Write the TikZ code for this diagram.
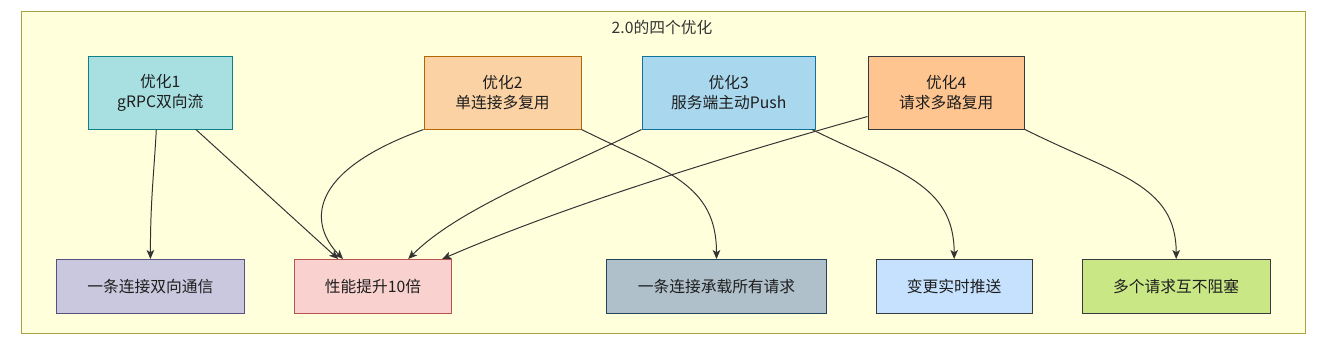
\documentclass[tikz,border=0pt]{standalone}
\usepackage{fontspec}
\setmainfont{Noto Sans CJK SC}
\usepackage{tikz}
\usetikzlibrary{arrows.meta,positioning}
\definecolor{framefill}{HTML}{FFFFDC}
\definecolor{frameline}{HTML}{A7A343}
\definecolor{tealfill}{HTML}{A8E0E2}
\definecolor{tealline}{HTML}{0E8088}
\definecolor{orangefill}{HTML}{FAD2A4}
\definecolor{orangeline}{HTML}{B46504}
\definecolor{bluefill}{HTML}{A9D8EE}
\definecolor{blueline}{HTML}{10739E}
\definecolor{peachfill}{HTML}{FFC590}
\definecolor{purplefill}{HTML}{CAC8DE}
\definecolor{purpleline}{HTML}{56517E}
\definecolor{redfill}{HTML}{F9D2D0}
\definecolor{redline}{HTML}{B85450}
\definecolor{slatefill}{HTML}{B0C0CB}
\definecolor{slateline}{HTML}{23445D}
\definecolor{skyfill}{HTML}{C6E1FD}
\definecolor{limefill}{HTML}{C9E784}
\definecolor{darkline}{HTML}{36393D}
\definecolor{edgegray}{HTML}{333333}
\definecolor{textgray}{HTML}{1E1E1E}

\begin{document}
\begin{tikzpicture}[
  box/.style={draw, line width=0.7pt, minimum height=1.8125cm, inner sep=1pt, align=center, text=textgray, font=\fontsize{11.2}{14.2}\selectfont},
  result/.style={box, minimum height=1.3375cm},
  bigbox/.style={draw=frameline, line width=0.7pt, fill=framefill, inner sep=0pt},
  arr/.style={-{Stealth[length=6.4pt, width=5.4pt, inset=1.6pt]}, line width=0.7pt, draw=edgegray, fill=none},
  >=Stealth
]
\useasboundingbox (0,0) rectangle (33.05,-8.825);

% Outer frame
\node[bigbox, minimum width=32.105cm, minimum height=8.0425cm] (v2) at (16.585, -4.304) {};
\node[text=edgegray, font=\fontsize{11.2}{14.2}\selectfont] (title) at (16.55, -0.68) {2.0的四个优化};

% Optimisations (top row)
\node[box, fill=tealfill, draw=tealline, minimum width=3.6cm] (grpc) at (4.0075, -2.319) {优化1\\gRPC双向流};
\node[box, fill=orangefill, draw=orangeline, minimum width=3.925cm] (mux) at (12.5625, -2.319) {优化2\\单连接多复用};
\node[box, fill=bluefill, draw=blueline, minimum width=4.3375cm] (push) at (18.219, -2.319) {优化3\\服务端主动Push};
\node[box, fill=peachfill, draw=darkline, minimum width=3.9125cm] (multireq) at (23.656, -2.319) {优化4\\请求多路复用};

% Effects (bottom row)
\node[result, fill=purplefill, draw=purpleline, minimum width=4.7cm] (duplex) at (3.76, -7.156) {一条连接双向通信};
\node[result, fill=redfill, draw=redline, minimum width=3.935cm] (perf) at (9.325, -7.156) {性能提升10倍};
\node[result, fill=slatefill, draw=slateline, minimum width=5.51cm] (onelink) at (17.9125, -7.156) {一条连接承载所有请求};
\node[result, fill=skyfill, draw=darkline, minimum width=3.9075cm] (realtime) at (23.854, -7.156) {变更实时推送};
\node[result, fill=limefill, draw=darkline, minimum width=4.6925cm] (noblock) at (29.405, -7.156) {多个请求互不阻塞};

% From optimisation 1
\draw[arr] ([xshift=-0.1cm]grpc.south) .. controls +(-0.05,-1) and +(0,1.5) .. (duplex.north);
\draw[arr] ([xshift=0.89cm]grpc.south) -- ([xshift=-0.87cm]perf.north);

% From optimisation 2
\draw[arr] (mux.south west) .. controls +(-2.975,-1.075) and +(-0.825,0.85) .. ([xshift=-0.75cm]perf.north);
\draw[arr] (mux.south east) .. controls +(2.125,-1.05) and +(0,1.875) .. (onelink.north);

% From optimisation 3
\draw[arr] (push.south west) .. controls +(-2.25,-1.1) and +(1.25,1.25) .. ([xshift=0.88cm]perf.north);
\draw[arr] ([xshift=-0.1cm]push.south east) .. controls +(2.125,-1.05) and +(0,1.875) .. (realtime.north);

% From optimisation 4
\draw[arr] ([yshift=0.325cm]multireq.south west) .. controls +(-3.75,-1.05) and +(3.0,1.3) .. ([xshift=1.73cm]perf.north);
\draw[arr] (multireq.south east) .. controls +(2.25,-1.125) and +(0,1.875) .. (noblock.north);

\end{tikzpicture}
\end{document}
